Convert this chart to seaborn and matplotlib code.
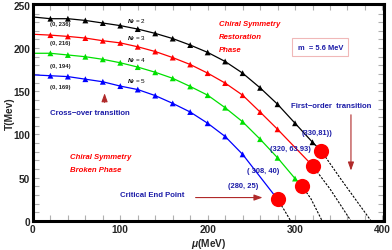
import numpy as np
import pandas as pd
import matplotlib
matplotlib.use("Agg")
import matplotlib.pyplot as plt
from matplotlib.ticker import MultipleLocator
import seaborn as sns

# ---- data ----
mu_pts = [20, 40, 60, 80, 100, 120, 140, 160, 180, 200, 220, 240, 260, 280, 300, 320]
T_nf2 = [234, 234, 232, 229, 226, 222, 217, 211, 203.5, 195, 184.5, 171, 154, 135, 113, 91]
T_nf3 = [215, 213.5, 211.6, 208.5, 206, 201.5, 196, 189, 181, 171, 159.5, 145.5, 126, 106]
T_nf4 = [194, 192, 190, 187, 183, 178, 172, 165, 155.6, 145.5, 131, 114.7, 94.6, 73, 49]
T_nf5 = [168, 167, 164, 161, 156, 152, 145, 136, 126, 113, 97.7, 77]
T_zero = [236, 216, 194, 169]
series_names = ["N_f = 2", "N_f = 3", "N_f = 4", "N_f = 5"]
cep_mu = [330, 320, 308, 280]
cep_T = [81, 63.93, 40, 25]
cep_labels = ["(330,81))", "(320, 63.93)", "( 308, 40)", "(280, 25)"]
# first-order (dashed) branch: critical point -> mid -> T=0
fo_mid_mu = [352, 340, 318, 288]
fo_mid_T = [49, 37, 26, 12]
fo_end_mu = [387, 364, 331, 295]

colors = ["#000000", "#ff0000", "#00e000", "#0000ff"]
navy = "#1c1ca8"
darkred = "#b02a2a"

all_T = [T_nf2, T_nf3, T_nf4, T_nf5]

rows_line, rows_mark, rows_fo = [], [], []
for i, (name, Ts) in enumerate(zip(series_names, all_T)):
    rows_line.append((name, 0, T_zero[i], 0))
    for k, t in enumerate(Ts):
        rows_line.append((name, mu_pts[k], t, k + 1))
        rows_mark.append((name, mu_pts[k], t))
    rows_line.append((name, cep_mu[i], cep_T[i], len(Ts) + 1))
    rows_fo += [(name, cep_mu[i], cep_T[i], 0), (name, fo_mid_mu[i], fo_mid_T[i], 1),
                (name, fo_end_mu[i], 0, 2)]
df_line = pd.DataFrame(rows_line, columns=["Nf", "mu", "T", "order"])
df_mark = pd.DataFrame(rows_mark, columns=["Nf", "mu", "T"])
df_fo = pd.DataFrame(rows_fo, columns=["Nf", "mu", "T", "order"])
df_cep = pd.DataFrame({"mu": cep_mu, "T": cep_T})

sns.set_style("white")
plt.rcParams["font.family"] = ["Liberation Sans", "DejaVu Sans"]
plt.rcParams["mathtext.fontset"] = "custom"
plt.rcParams["mathtext.it"] = "Liberation Sans:italic:bold"
plt.rcParams["mathtext.rm"] = "Liberation Sans:bold"

fig = plt.figure(figsize=(3.92, 2.51), dpi=100)
ax = fig.add_axes([0.084, 0.116, 0.896, 0.864])

pal = dict(zip(series_names, colors))
sns.lineplot(data=df_line, x="mu", y="T", hue="Nf", palette=pal, sort=False,
             units="Nf", estimator=None, lw=0.9, legend=False, ax=ax)
sns.scatterplot(data=df_mark, x="mu", y="T", hue="Nf", palette=pal, marker="^",
                s=18, linewidth=0, legend=False, ax=ax, zorder=3)
for name in series_names:
    sub = df_fo[df_fo.Nf == name]
    sns.lineplot(data=sub, x="mu", y="T", sort=False, estimator=None, color="black",
                 lw=0.8, linestyle=(0, (2, 1.3)), legend=False, ax=ax)
sns.scatterplot(data=df_cep, x="mu", y="T", color="#ff0000", s=120, linewidth=0,
                legend=False, ax=ax, zorder=4)

ax.set_xlim(0, 402)
ax.set_ylim(0, 251)
ax.xaxis.set_major_locator(MultipleLocator(100))
ax.xaxis.set_minor_locator(MultipleLocator(20))
ax.yaxis.set_major_locator(MultipleLocator(50))
ax.yaxis.set_minor_locator(MultipleLocator(10))
ax.tick_params(which="both", direction="in", length=4, width=0.8, color="#b0b0b0",
               top=True, right=True, bottom=True, left=True)
ax.tick_params(which="major", labelsize=7.3, pad=2)
for lab in ax.get_xticklabels() + ax.get_yticklabels():
    lab.set_fontweight("bold")
for sp in ax.spines.values():
    sp.set_linewidth(2.2)
    sp.set_color("black")

ax.set_xlabel(r"$\mu$(MeV)", fontsize=7.3, fontweight="bold", labelpad=2)
ax.set_ylabel("T(Mev)", fontsize=7.3, fontweight="bold")
ax.yaxis.set_label_coords(-0.052, 0.5)

# annotations
for i, t0 in enumerate(T_zero):
    ax.text(19.5, [229, 207, 180, 155][i], f"(0, {t0})", fontsize=4.2,
            fontweight="bold", color="#222222", va="center")
for i, name in enumerate(series_names):
    ax.text(108, [232, 212, 187, 162][i], r"$N_f$ = " + name[-1], fontsize=4.6,
            color="black", va="center")

ital = dict(color="red", fontsize=5.6, fontweight="bold", style="italic", va="center")
ax.text(213, 228, "Chiral Symmetry", **ital)
ax.text(213, 213, "Restoration", **ital)
ax.text(213, 198, "Phase", **ital)
ax.text(43, 74, "Chiral Symmetry", **ital)
ax.text(43, 59, "Broken Phase", **ital)

ax.text(329, 201, "m  = 5.6 MeV", color=navy, fontsize=5.4, fontweight="bold",
        ha="center", va="center",
        bbox=dict(boxstyle="square,pad=0.7", fc="white", ec="#f0b8b8", lw=0.8))

nav = dict(color=navy, fontsize=5.6, fontweight="bold", va="center")
ax.text(295, 134, "First\u2212order  transition", **nav)
ax.text(19.5, 126, "Cross\u2212over transition", **nav)
ax.text(100, 30, "Critical End Point", **nav)

for lab, x, y in zip(cep_labels, [325, 295, 264, 241], [102, 84, 58, 41]):
    ax.text(x, y, lab, color=navy, fontsize=5.4, fontweight="bold",
            ha="center", va="center")

arrow = dict(arrowstyle="-|>,head_length=0.5,head_width=0.18", color=darkred, lw=0.8)
ax.annotate("", xy=(364, 55), xytext=(364, 126), arrowprops=arrow)
ax.annotate("", xy=(82, 151), xytext=(82, 134), arrowprops=arrow)
ax.annotate("", xy=(266, 27), xytext=(183, 27), arrowprops=arrow)

fig.savefig("out.png", dpi=100)
